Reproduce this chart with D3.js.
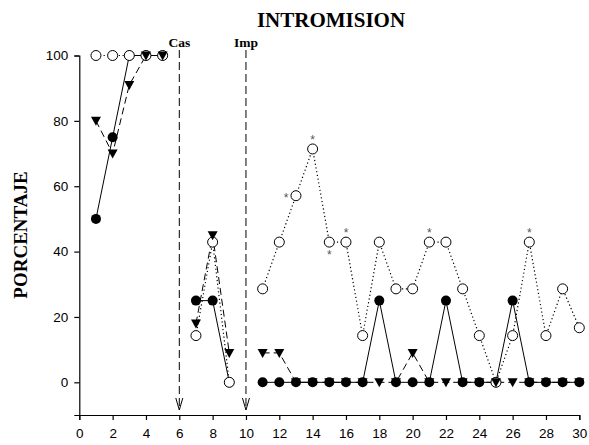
<!DOCTYPE html>
<html>
<head>
<meta charset="utf-8">
<script src="https://cdn.jsdelivr.net/npm/d3@7"></script>
<style>
  body { margin: 0; background: #fff; }
  svg { display: block; }
</style>
</head>
<body>
<div id="chart"></div>
<script>
// days 1..30 (null = no session)
var days = d3.range(1, 31);
var filledVals = [50, 75, 100, 100, 100, null, 25, 25, 0, null,
	0, 0, 0, 0, 0, 0, 0, 25, 0, 0, 0, 25, 0, 0, 0, 25, 0, 0, 0, 0];
var openVals = [100, 100, 100, 100, 100, null, 14.3, 42.9, 0, null,
	28.6, 42.9, 57.1, 71.4, 42.9, 42.9, 14.3, 42.9, 28.6, 28.6,
	42.9, 42.9, 28.6, 14.3, 0, 14.3, 42.9, 14.3, 28.6, 16.7];
var triVals = [80, 70, 91, 100, 100, null, 18, 45, 9, null,
	9, 9, 0, 0, 0, 0, 0, 0, 0, 9, 0, 0, 0, 0, 0, 0, 0, 0, 0, 0];

var starDays = [13, 14, 15, 16, 21, 27];
var starPlace = ["left", "above", "below", "above", "above", "above"];

var eventDays = [6, 10];
var eventLabels = ["Cas", "Imp"];

var xTicks = d3.range(0, 31, 2);
var yTicks = [0, 20, 40, 60, 80, 100];

var width = 589, height = 445;
var svg = d3.select("#chart").append("svg")
	.attr("width", width).attr("height", height);

var x = d3.scaleLinear().domain([0, 30]).range([79.3, 579.3]);
var y = d3.scaleLinear().domain([-10, 100]).range([415, 55.5]);

//axes
var xAxis = svg.append("g")
	.attr("transform", "translate(0," + y(-10) + ")")
	.call(d3.axisBottom(x).tickValues(xTicks).tickSizeOuter(0).tickSize(5).tickPadding(8));
var yAxis = svg.append("g")
	.attr("transform", "translate(" + x(0) + ",0)")
	.call(d3.axisLeft(y).tickValues(yTicks).tickSizeOuter(0).tickSize(5).tickPadding(6));
svg.selectAll(".tick text")
	.attr("font-family", "'Liberation Sans', Arial, sans-serif")
	.attr("font-size", "13.5px")
	.attr("fill", "#000");
svg.selectAll(".domain, .tick line").attr("stroke", "#000").attr("stroke-width", 1.2);

//title and axis label
svg.append("text")
	.attr("x", 331).attr("y", 27)
	.attr("text-anchor", "middle")
	.attr("font-family", "'Liberation Serif', 'Times New Roman', serif")
	.attr("font-weight", "bold").attr("font-size", "21px")
	.text("INTROMISION");
svg.append("text")
	.attr("transform", "translate(27,235) rotate(-90)")
	.attr("text-anchor", "middle")
	.attr("font-family", "'Liberation Serif', 'Times New Roman', serif")
	.attr("font-weight", "bold").attr("font-size", "19px")
	.text("PORCENTAJE");

//event markers
eventDays.forEach(function (d, i) {
	var ex = x(d);
	svg.append("line")
		.attr("x1", ex).attr("x2", ex)
		.attr("y1", 50).attr("y2", 409)
		.attr("stroke", "#000").attr("stroke-width", 1)
		.attr("stroke-dasharray", "8,4");
	svg.append("path")
		.attr("d", "M" + (ex - 3.5) + "," + 398 + "L" + ex + "," + 410 + "L" + (ex + 3.5) + "," + 398)
		.attr("fill", "none").attr("stroke", "#000").attr("stroke-width", 1);
	svg.append("text")
		.attr("x", ex).attr("y", 47)
		.attr("text-anchor", "middle")
		.attr("font-family", "'Liberation Serif', 'Times New Roman', serif")
		.attr("font-weight", "bold").attr("font-size", "13.5px")
		.text(eventLabels[i]);
});

function series(vals) {
	return days.map(function (d, i) { return { day: d, v: vals[i] }; });
}
var line = d3.line()
	.defined(function (d) { return d.v !== null; })
	.x(function (d) { return x(d.day); })
	.y(function (d) { return y(d.v); });

var filled = series(filledVals), open = series(openVals), tri = series(triVals);

svg.append("path").datum(filled).attr("d", line)
	.attr("fill", "none").attr("stroke", "#000").attr("stroke-width", 1);
svg.append("path").datum(open).attr("d", line)
	.attr("fill", "none").attr("stroke", "#000").attr("stroke-width", 1.2)
	.attr("stroke-dasharray", "1.2,2.6");
svg.append("path").datum(tri).attr("d", line)
	.attr("fill", "none").attr("stroke", "#000").attr("stroke-width", 1)
	.attr("stroke-dasharray", "7,4");

function valid(d) { return d.v !== null; }

svg.selectAll("circle.filled").data(filled.filter(valid)).enter()
	.append("circle").attr("class", "filled")
	.attr("cx", function (d) { return x(d.day); })
	.attr("cy", function (d) { return y(d.v); })
	.attr("r", 5).attr("fill", "#000");

svg.selectAll("circle.open").data(open.filter(valid)).enter()
	.append("circle").attr("class", "open")
	.attr("cx", function (d) { return x(d.day); })
	.attr("cy", function (d) { return y(d.v); })
	.attr("r", 5).attr("fill", "#fff").attr("stroke", "#000").attr("stroke-width", 1);

svg.selectAll("path.tri").data(tri.filter(valid)).enter()
	.append("path").attr("class", "tri")
	.attr("d", function (d) {
		var cx = x(d.day), cy = y(d.v);
		return "M" + (cx - 5) + "," + (cy - 4) + "L" + (cx + 5) + "," + (cy - 4) + "L" + cx + "," + (cy + 5) + "Z";
	})
	.attr("fill", "#000");

//asterisks
svg.selectAll("text.star").data(starDays).enter()
	.append("text").attr("class", "star")
	.attr("x", function (d, i) { return x(d) + (starPlace[i] == "left" ? -10 : 0); })
	.attr("y", function (d, i) {
		var py = y(openVals[d - 1]);
		if (starPlace[i] == "above") { return py - 5; }
		if (starPlace[i] == "below") { return py + 17; }
		return py + 6;
	})
	.attr("text-anchor", "middle")
	.attr("font-family", "'Liberation Sans', Arial, sans-serif")
	.attr("font-size", "12px")
	.attr("fill", "#555")
	.text("*");
</script>
</body>
</html>
